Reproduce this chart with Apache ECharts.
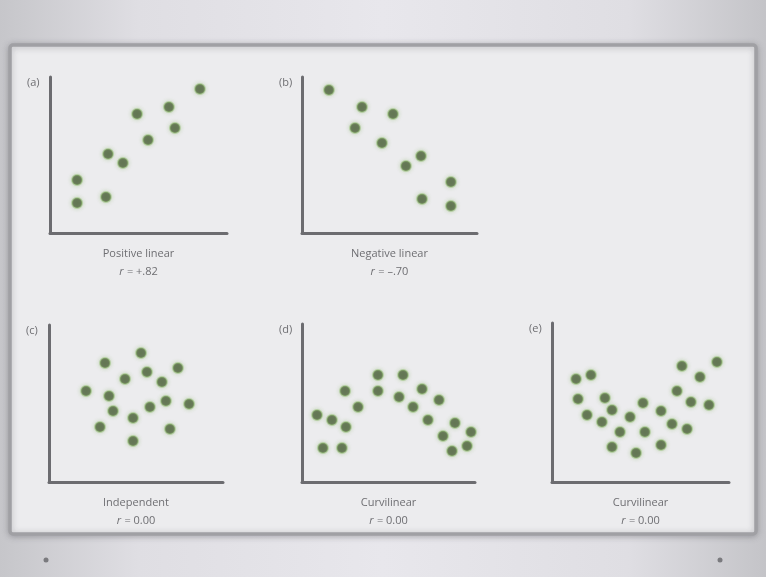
<!DOCTYPE html>
<html>
<head>
<meta charset="utf-8">
<script src="https://cdn.jsdelivr.net/npm/echarts@6/dist/echarts.min.js"></script>
<style>
  html, body { margin: 0; padding: 0; background: #dcdce0; }
  #main { width: 766px; height: 577px; }
</style>
</head>
<body>
<div id="main"></div>
<script>
// values, both axes on a 0-10 scale
const positiveLinear = [[8.47, 9.23], [6.72, 8.08], [4.92, 7.63], [7.06, 6.73], [5.54, 5.96],
  [3.28, 5.06], [4.12, 4.49], [1.53, 3.40], [3.16, 2.31], [1.53, 1.92]];
const negativeLinear = [[1.54, 9.17], [3.43, 8.08], [5.2, 7.63], [3.03, 6.73], [4.57, 5.77],
  [6.8, 4.94], [5.94, 4.29], [8.51, 3.27], [6.86, 2.18], [8.51, 1.73]];
const independent = [[5.29, 8.22], [3.22, 7.58], [7.41, 7.26], [5.63, 7.01], [4.37, 6.56],
  [6.49, 6.37], [2.13, 5.80], [3.45, 5.48], [6.72, 5.16], [8.05, 4.97], [5.80, 4.78],
  [3.68, 4.52], [4.83, 4.08], [2.93, 3.50], [6.95, 3.38], [4.83, 2.61]];
const curvilinearD = [[4.39, 6.77], [5.84, 6.77], [2.49, 5.76], [4.39, 5.76], [6.94, 5.89],
  [5.61, 5.38], [7.92, 5.19], [3.24, 4.75], [6.42, 4.75], [0.87, 4.24], [1.73, 3.92],
  [7.28, 3.92], [8.84, 3.73], [2.54, 3.48], [9.77, 3.16], [8.15, 2.91], [1.21, 2.15],
  [2.31, 2.15], [9.54, 2.28], [8.67, 1.96]];
const curvilinearE = [[9.32, 7.55], [7.34, 7.30], [2.20, 6.73], [1.36, 6.48], [8.36, 6.60],
  [7.06, 5.72], [1.47, 5.22], [2.99, 5.28], [7.85, 5.03], [8.87, 4.84], [5.14, 4.97],
  [3.39, 4.53], [6.16, 4.47], [1.98, 4.21], [4.41, 4.09], [2.82, 3.77], [6.78, 3.65],
  [7.63, 3.33], [3.84, 3.14], [5.25, 3.14], [6.16, 2.33], [3.39, 2.20], [4.75, 1.82]];

const panelLetters = ['(a)', '(b)', '(c)', '(d)', '(e)'];
const panelNames = ['Positive linear', 'Negative linear', 'Independent', 'Curvilinear', 'Curvilinear'];
const panelR = ['+.82', '\u2013.70', '0.00', '0.00', '0.00'];
const panelData = [positiveLinear, negativeLinear, independent, curvilinearD, curvilinearE];

// grid boxes: left, top, width, height (axis corner at bottom-left)
const boxes = [
  [50, 77, 177, 156],
  [302, 77, 175, 156],
  [49, 325, 174, 157],
  [302, 324, 173, 158],
  [552, 323, 177, 159]
];

const axisGray = '#6c6c70';
const textGray = '#6e6e72';

const chart = echarts.init(document.getElementById('main'));

const grids = [], xAxes = [], yAxes = [], series = [], titles = [];
boxes.forEach(function (b, i) {
  grids.push({ left: b[0], top: b[1], width: b[2], height: b[3] });
  xAxes.push({
    gridIndex: i, type: 'value', min: 0, max: 10,
    axisLine: { lineStyle: { color: axisGray, width: 3 } },
    axisTick: { show: false }, axisLabel: { show: false }, splitLine: { show: false },
    name: '{n|' + panelNames[i] + '}\n{r|r} {n|= ' + panelR[i] + '}',
    nameLocation: 'middle', nameGap: 12,
    nameTextStyle: {
      rich: {
        n: { fontFamily: 'Open Sans', fontSize: 11, color: textGray, lineHeight: 18 },
        r: { fontFamily: 'Open Sans', fontStyle: 'italic', fontSize: 11, color: textGray, lineHeight: 18 }
      }
    }
  });
  yAxes.push({
    gridIndex: i, type: 'value', min: 0, max: 10,
    axisLine: { lineStyle: { color: axisGray, width: 3 } },
    axisTick: { show: false }, axisLabel: { show: false }, splitLine: { show: false }
  });
  series.push({
    type: 'scatter', xAxisIndex: i, yAxisIndex: i,
    data: panelData[i], symbolSize: 10,
    itemStyle: {
      color: '#4b5d3c',
      borderColor: 'rgba(140,185,105,0.55)', borderWidth: 2,
      shadowBlur: 4, shadowColor: 'rgba(130,175,95,0.55)'
    }
  });
  titles.push({
    text: panelLetters[i], left: b[0] - 28, top: b[1] - 5,
    textStyle: { fontFamily: 'Open Sans', fontSize: 11, fontWeight: 'normal', color: textGray }
  });
});

chart.setOption({
  backgroundColor: '#dcdce0',
  animation: false,
  title: titles,
  grid: grids,
  xAxis: xAxes,
  yAxis: yAxes,
  series: series,
  graphic: [
    {
      type: 'rect', z: -10, silent: true,
      shape: { x: 0, y: 0, width: 766, height: 577 },
      style: {
        fill: new echarts.graphic.LinearGradient(0, 0, 1, 0, [
          { offset: 0, color: '#c6c6ca' },
          { offset: 0.18, color: '#dfdee3' },
          { offset: 0.5, color: '#e8e7ec' },
          { offset: 0.82, color: '#dfdee3' },
          { offset: 1, color: '#c4c4c8' }
        ])
      }
    },
    {
      type: 'rect', z: -9, silent: true,
      shape: { x: 10, y: 45, width: 746, height: 489, r: 3 },
      style: {
        fill: '#ececee', stroke: '#a0a0a4', lineWidth: 3.5,
        shadowBlur: 6, shadowColor: 'rgba(80,80,90,0.35)', shadowOffsetY: 1
      }
    },
    {
      type: 'circle', z: -8, silent: true,
      shape: { cx: 46, cy: 560, r: 2.5 },
      style: { fill: '#7a7a7e' }
    },
    {
      type: 'circle', z: -8, silent: true,
      shape: { cx: 720, cy: 560, r: 2.5 },
      style: { fill: '#7a7a7e' }
    }
  ]
});
</script>
</body>
</html>
